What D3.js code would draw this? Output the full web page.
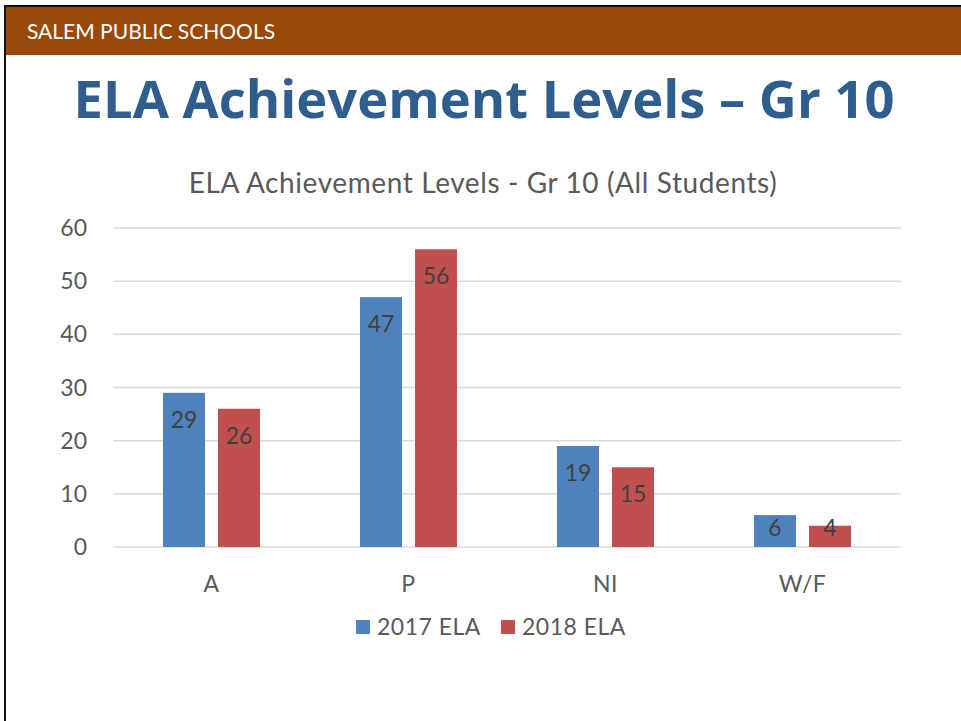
<!DOCTYPE html>
<html>
<head>
<meta charset="utf-8">
<script src="https://cdn.jsdelivr.net/npm/d3@7"></script>
<style>
  html, body { margin: 0; padding: 0; background: #fff; }
  svg { display: block; }
</style>
</head>
<body>
<svg id="chart"></svg>
<script>
// chart data
const categories = ["A", "P", "NI", "W/F"];
const seriesNames = ["2017 ELA", "2018 ELA"];
const values2017 = [29, 47, 19, 6];
const values2018 = [26, 56, 15, 4];
const yTicks = [0, 10, 20, 30, 40, 50, 60];

const W = 961, H = 721;
const colors = ["#4F81BD", "#C0504D"];
const textGrey = "#595959";
const chartFont = "Lato, 'Open Sans', sans-serif";

const svg = d3.select("#chart").attr("width", W).attr("height", H);

svg.append("rect").attr("width", W).attr("height", H).attr("fill", "#fff");

// slide frame + header band
svg.append("rect").attr("x", 4).attr("y", 5).attr("width", W).attr("height", 2).attr("fill", "#111");
svg.append("rect").attr("x", 4).attr("y", 5).attr("width", 2).attr("height", H).attr("fill", "#111");
svg.append("rect").attr("x", 6).attr("y", 7).attr("width", W - 6).attr("height", 48).attr("fill", "#984807");

svg.append("text")
  .attr("x", 27).attr("y", 39)
  .attr("fill", "#fff")
  .attr("font-family", chartFont)
  .attr("font-size", 21)
  .text("SALEM PUBLIC SCHOOLS");

svg.append("text")
  .attr("x", 484).attr("y", 118)
  .attr("text-anchor", "middle")
  .attr("fill", "#2F5E8E")
  .attr("font-family", "'Open Sans', sans-serif")
  .attr("font-weight", "bold")
  .attr("font-size", 52.5)
  .text("ELA Achievement Levels – Gr 10");

svg.append("text")
  .attr("x", 483).attr("y", 193)
  .attr("text-anchor", "middle")
  .attr("fill", textGrey)
  .attr("font-family", chartFont)
  .attr("font-size", 28)
  .attr("letter-spacing", 0.6)
  .text("ELA Achievement Levels - Gr 10 (All Students)");

// scales
const x0 = d3.scaleBand().domain(categories).range([113, 901]);
const y = d3.scaleLinear().domain([0, 60]).range([547, 228]);
const barW = 42, barGap = 13;

const g = svg.append("g");

// gridlines
g.selectAll(".grid")
  .data(yTicks)
  .enter()
  .append("line")
  .attr("x1", 113).attr("x2", 901)
  .attr("y1", d => y(d)).attr("y2", d => y(d))
  .attr("stroke", "#D9D9D9")
  .attr("stroke-width", 1.5);

// y tick labels
g.selectAll(".ylab")
  .data(yTicks)
  .enter()
  .append("text")
  .attr("x", 87).attr("y", d => y(d) + 8)
  .attr("text-anchor", "end")
  .attr("fill", textGrey)
  .attr("font-family", chartFont)
  .attr("font-size", 23)
  .text(d => d);

// bars
const rows = [];
categories.forEach((c, i) => {
  [values2017[i], values2018[i]].forEach((v, s) => rows.push({ cat: c, s: s, v: v }));
});

const barX = d => x0(d.cat) + x0.bandwidth() / 2 + (d.s === 0 ? -(barGap / 2 + barW) : barGap / 2);

g.selectAll(".bar")
  .data(rows)
  .enter()
  .append("rect")
  .attr("x", barX)
  .attr("y", d => y(d.v))
  .attr("width", barW)
  .attr("height", d => y(0) - y(d.v))
  .attr("fill", d => colors[d.s]);

g.selectAll(".vlab")
  .data(rows)
  .enter()
  .append("text")
  .attr("x", d => barX(d) + barW / 2)
  .attr("y", d => Math.min(y(d.v) + 35, y(0) - 11))
  .attr("text-anchor", "middle")
  .attr("fill", "#404040")
  .attr("font-family", chartFont)
  .attr("font-size", 23)
  .text(d => d.v);

// category labels
g.selectAll(".xlab")
  .data(categories)
  .enter()
  .append("text")
  .attr("x", d => x0(d) + x0.bandwidth() / 2)
  .attr("y", 592)
  .attr("text-anchor", "middle")
  .attr("fill", textGrey)
  .attr("font-family", chartFont)
  .attr("font-size", 23)
  .attr("letter-spacing", 0.5)
  .text(d => d);

// legend
const legendX = [356, 501];
const legend = g.selectAll(".leg")
  .data(seriesNames)
  .enter()
  .append("g")
  .attr("transform", (d, i) => `translate(${legendX[i]},620)`);

legend.append("rect")
  .attr("width", 14).attr("height", 14)
  .attr("fill", (d, i) => colors[i]);

legend.append("text")
  .attr("x", 21).attr("y", 15)
  .attr("fill", textGrey)
  .attr("font-family", chartFont)
  .attr("font-size", 23)
  .attr("letter-spacing", 0.5)
  .text(d => d);
</script>
</body>
</html>
